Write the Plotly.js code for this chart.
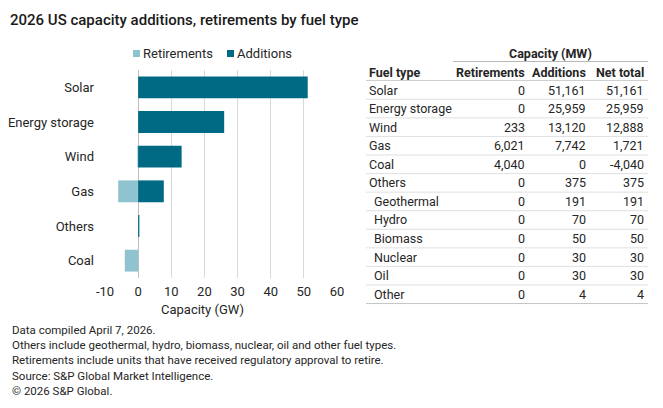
<!DOCTYPE html>
<html>
<head>
<meta charset="utf-8">
<script src="https://cdn.plot.ly/plotly-3.0.1.min.js"></script>
<style>
  html, body { margin: 0; padding: 0; background: #ffffff; }
  #chart { width: 663px; height: 408px; }
</style>
</head>
<body>
<div id="chart"></div>
<script>
// Chart categories (top to bottom) and capacity in MW
const categories = ["Solar", "Energy storage", "Wind", "Gas", "Others", "Coal"];
const retirementsMW = [0, 0, 233, 6021, 0, 4040];
const additionsMW = [51161, 25959, 13120, 7742, 375, 0];

// Table rows
const tableFuel = ["Solar", "Energy storage", "Wind", "Gas", "Coal", "Others",
  "Geothermal", "Hydro", "Biomass", "Nuclear", "Oil", "Other"];
const tableIndent = [false, false, false, false, false, false, true, true, true, true, true, true];
const tableRetirements = ["0", "0", "233", "6,021", "4,040", "0", "0", "0", "0", "0", "0", "0"];
const tableAdditions = ["51,161", "25,959", "13,120", "7,742", "0", "375", "191", "70", "50", "30", "30", "4"];
const tableNet = ["51,161", "25,959", "12,888", "1,721", "-4,040", "375", "191", "70", "50", "30", "30", "4"];

const xTicks = [-10, 0, 10, 20, 30, 40, 50, 60];

const footnotes = [
  "Data compiled April 7, 2026.",
  "Others include geothermal, hydro, biomass, nuclear, oil and other fuel types.",
  "Retirements include units that have received regulatory approval to retire.",
  "Source: S&P Global Market Intelligence.",
  "\u00A9 2026 S&P Global."
];

const W = 663, H = 408;
const M = { l: 105, r: 326, t: 70, b: 130 };
const plotW = W - M.l - M.r, plotH = H - M.t - M.b;
const px = x => (x - M.l) / plotW;
const py = y => 1 - (y - M.t) / plotH;

const FONT = "Roboto, 'Open Sans', sans-serif";
const TXT = "#262626";
const TEAL = "#006a85";
const LIGHT = "#90c3d0";

const toGW = arr => arr.map(v => v / 1000);

const traces = [
  {
    type: "bar", orientation: "h", name: "Retirements",
    y: categories, x: toGW(retirementsMW).map(v => -v),
    marker: { color: LIGHT }, hoverinfo: "skip", showlegend: false
  },
  {
    type: "bar", orientation: "h", name: "Additions",
    y: categories, x: toGW(additionsMW),
    marker: { color: TEAL }, hoverinfo: "skip", showlegend: false
  }
];

const annotations = [];
const shapes = [];

// Legend: small square key + label for each series
const legendItems = [
  { name: traces[0].name, color: LIGHT, x: 133 },
  { name: traces[1].name, color: TEAL, x: 227 }
];
const legendY = 53.5, keySize = 7;
legendItems.forEach(item => {
  shapes.push({ type: "rect", xref: "paper", yref: "paper",
    x0: px(item.x), x1: px(item.x + keySize),
    y0: py(legendY - keySize / 2), y1: py(legendY + keySize / 2),
    fillcolor: item.color, line: { width: 0 } });
  annotations.push({
    xref: "paper", yref: "paper", x: px(item.x + keySize + 1), y: py(legendY),
    xanchor: "left", yanchor: "middle", showarrow: false,
    text: item.name, font: { family: FONT, size: 13, color: TXT }
  });
});

// Axis title
annotations.push({
  xref: "paper", yref: "paper", x: px(202.5), y: py(309),
  xanchor: "center", yanchor: "middle", showarrow: false,
  text: "Capacity (GW)", font: { family: FONT, size: 13, color: TXT }
});

// Table layout (pixel positions)
const colFuelX = 367, colRetX = 527, colAddX = 588, colNetX = 646;
const rowY0 = 90, rowStep = 18.57;
const lineL = 366, lineR = 648;

annotations.push({
  xref: "paper", yref: "paper", x: px(550), y: py(53),
  xanchor: "center", yanchor: "middle", showarrow: false,
  text: "<b>Capacity (MW)</b>", font: { family: FONT, size: 12.5, color: TXT }
});
shapes.push({ type: "line", xref: "paper", yref: "paper",
  x0: px(453), x1: px(648), y0: py(61.5), y1: py(61.5),
  line: { color: "#b8b8b8", width: 1 } });

const headers = [["Fuel type", colFuelX, "left"], ["Retirements", colRetX, "right"],
  ["Additions", colAddX, "right"], ["Net total", colNetX, "right"]];
headers.forEach(([t, x, a]) => annotations.push({
  xref: "paper", yref: "paper", x: px(x), y: py(72),
  xanchor: a, yanchor: "middle", showarrow: false,
  text: "<b>" + t + "</b>", font: { family: FONT, size: 12.5, color: TXT }
}));
shapes.push({ type: "line", xref: "paper", yref: "paper",
  x0: px(lineL), x1: px(lineR), y0: py(80.5), y1: py(80.5),
  line: { color: "#cfcfcf", width: 1 } });

tableFuel.forEach((name, i) => {
  const y = rowY0 + i * rowStep;
  const cells = [[name, colFuelX + (tableIndent[i] ? 5 : 0), "left"],
    [tableRetirements[i], colRetX, "right"],
    [tableAdditions[i], colAddX, "right"],
    [tableNet[i], colNetX, "right"]];
  cells.forEach(([t, x, a]) => annotations.push({
    xref: "paper", yref: "paper", x: px(x), y: py(y),
    xanchor: a, yanchor: "middle", showarrow: false,
    text: t, font: { family: FONT, size: 12.5, color: TXT }
  }));
  const ly = y + rowStep / 2;
  shapes.push({ type: "line", xref: "paper", yref: "paper",
    x0: px(lineL), x1: px(lineR), y0: py(ly), y1: py(ly),
    line: { color: i === tableFuel.length - 1 ? "#c4c4c4" : "#e0e0e0", width: 1 } });
});

// Footnotes
footnotes.forEach((t, i) => annotations.push({
  xref: "paper", yref: "paper", x: px(10), y: py(330 + i * 15.2),
  xanchor: "left", yanchor: "middle", showarrow: false,
  text: t, font: { family: FONT, size: 11.5, color: TXT }
}));

const layout = {
  width: W, height: H,
  margin: M,
  paper_bgcolor: "#ffffff", plot_bgcolor: "#ffffff",
  font: { family: FONT, size: 13, color: TXT },
  title: {
    text: "2026 US capacity additions, retirements by fuel type",
    xref: "container", yref: "container",
    x: 10 / W, xanchor: "left", y: 1 - 20 / H, yanchor: "middle",
    font: { family: FONT, size: 15, color: "#1a1a1a", weight: 500 }
  },
  barmode: "relative",
  bargap: 0.37,
  showlegend: false,
  xaxis: {
    range: [-10, 60], tickvals: xTicks, ticktext: xTicks.map(String),
    showgrid: true, gridcolor: "#d9d9d9", gridwidth: 1,
    zeroline: true, zerolinecolor: "#bfbfbf", zerolinewidth: 1,
    showline: false, ticks: "", ticklabelstandoff: 4,
    tickfont: { family: FONT, size: 13, color: TXT }, fixedrange: true
  },
  yaxis: {
    type: "category", autorange: "reversed",
    showgrid: false, zeroline: false, showline: false, ticks: "",
    ticklabelstandoff: 10,
    tickfont: { family: FONT, size: 13, color: TXT }, fixedrange: true
  },
  annotations: annotations,
  shapes: shapes
};

Plotly.newPlot("chart", traces, layout, { displayModeBar: false, staticPlot: true });
</script>
</body>
</html>
